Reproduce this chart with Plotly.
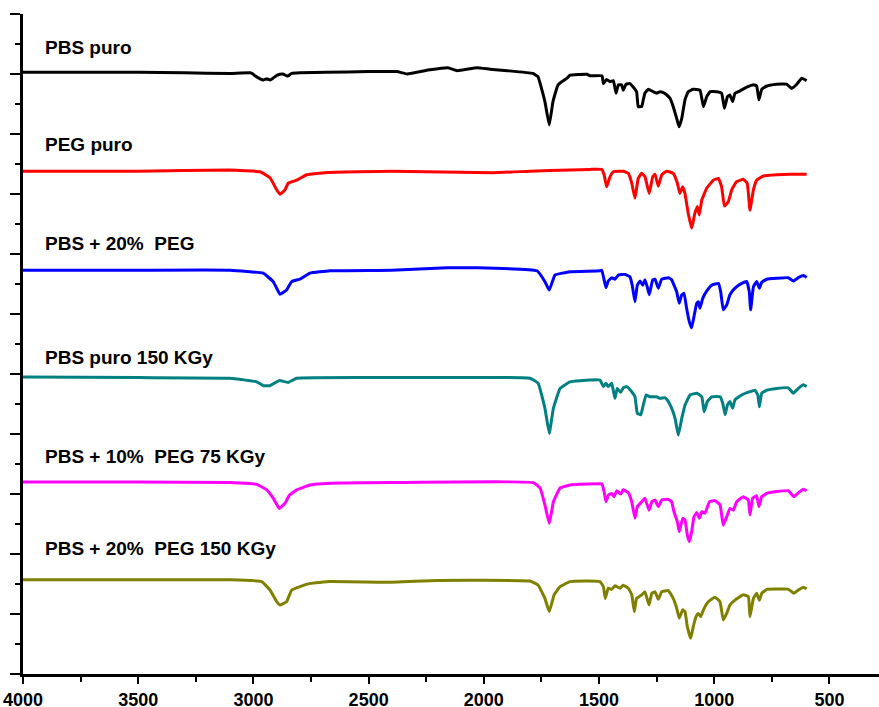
import plotly.graph_objects as go

# ---- data (wavenumber cm-1, transmittance a.u. with stacking offset) ----
wn_pbs = [4000, 3500, 3300, 3102, 3015, 3002, 2993, 2971, 2957, 2942, 2928, 2915, 2899, 2885, 2872, 2856, 2849,
          2834, 2798, 2682, 2500, 2377, 2333, 2234, 2156, 2116, 2030, 1973, 1899, 1787, 1765, 1735, 1716, 1700,
          1678, 1639, 1626, 1552, 1539, 1487, 1481, 1467, 1452, 1438, 1426, 1416, 1402, 1395, 1383, 1366, 1351,
          1337, 1330, 1315, 1308, 1301, 1286, 1265, 1250, 1235, 1221, 1206, 1192, 1178, 1163, 1153, 1141, 1127,
          1113, 1091, 1062, 1047, 1033, 1018, 989, 968, 956, 943, 932, 920, 910, 888, 859, 830, 816, 806, 794,
          772, 729, 686, 664, 642, 620, 599]
t_pbs = [100.3, 100.3, 100.2, 100.1, 100.2, 100.0, 99.7, 99.2, 99.0, 99.2, 99.0, 99.3, 99.75, 99.95, 100.0, 99.7, 99.7,
         100.1, 100.2, 100.3, 100.4, 100.4, 100.0, 100.7, 101.05, 100.55, 101.05, 100.8, 100.55, 100.1, 99.55, 95.4, 91.5, 95.4,
         98.2, 99.3, 99.8, 99.95, 99.7, 99.7, 98.4, 99.1, 98.7, 98.9, 96.8, 98.2, 98.2, 97.3, 98.3, 98.4, 97.8,
         97.05, 94.55, 94.55, 95.7, 96.8, 97.45, 97.05, 96.8, 97.05, 96.9, 96.5, 95.95, 94.55, 92.6, 91.2, 92.6, 95.7,
         97.05, 97.45, 97.3, 94.55, 96.2, 97.05, 97.05, 96.8, 94.3, 96.2, 96.5, 95.4, 96.8, 97.2, 97.8, 98.2, 98.0, 95.7, 97.45,
         98.0, 98.3, 98.3, 97.6, 98.3, 99.3, 98.9]

wn_peg = [4000, 3500, 3102, 2971, 2928, 2899, 2885, 2863, 2849, 2812, 2769, 2682, 2400, 1960, 1800, 1626, 1539,
          1488, 1478, 1467, 1452, 1438, 1395, 1373, 1358, 1344, 1330, 1315, 1301, 1282, 1267, 1257, 1243, 1228,
          1206, 1178, 1160, 1149, 1137, 1127, 1113, 1098, 1084, 1073, 1065, 1054, 1033, 1004, 982, 968, 956, 939,
          924, 903, 874, 857, 845, 830, 816, 787, 729, 671, 599]
t_peg = [83.8, 83.8, 84.0, 83.7, 82.7, 80.7, 79.95, 80.7, 81.8, 82.3, 83.2, 83.6, 83.8, 83.55, 83.8, 84.0, 84.1,
         84.1, 83.2, 81.2, 82.9, 83.7, 83.8, 83.45, 81.8, 79.3, 82.6, 83.45, 82.9, 80.1, 82.9, 83.3, 81.3, 83.2,
         83.8, 83.45, 81.8, 80.1, 81.2, 80.05, 76.8, 74.3, 76.8, 77.9, 76.5, 79.0, 80.95, 82.3, 82.6, 81.2, 78.0, 78.7,
         80.7, 82.05, 82.45, 81.8, 77.3, 80.7, 82.3, 83.0, 83.2, 83.3, 83.3]

wn_pbs20 = [4000, 3500, 3102, 2958, 2914, 2885, 2856, 2834, 2798, 2754, 2668, 2400, 2160, 2030, 1769, 1735, 1716,
            1691, 1626, 1496, 1488, 1478, 1470, 1460, 1445, 1431, 1416, 1387, 1366, 1356, 1344, 1334, 1322, 1310,
            1301, 1291, 1282, 1267, 1257, 1243, 1228, 1199, 1185, 1163, 1152, 1141, 1131, 1120, 1108, 1098, 1088,
            1076, 1069, 1062, 1050, 1033, 1011, 982, 972, 961, 946, 932, 910, 881, 859, 848, 842, 830, 816, 804,
            794, 772, 729, 679, 657, 635, 613, 599]
t_pbs20 = [67.3, 67.3, 67.3, 66.8, 65.4, 63.3, 64.0, 65.4, 65.8, 66.8, 67.2, 67.3, 67.7, 67.7, 67.2, 65.4, 64.0,
           66.5, 67.05, 67.2, 67.3, 65.7, 64.4, 65.5, 66.05, 65.8, 66.5, 66.6, 66.2, 64.8, 62.05, 64.8, 65.5, 64.8,
           65.7, 64.55, 63.2, 65.7, 65.8, 64.3, 65.8, 66.05, 65.7, 63.7, 61.8, 63.2, 63.45, 60.95, 58.7, 57.7, 59.55,
           61.8, 62.05, 60.95, 62.6, 63.8, 64.8, 65.1, 63.7, 60.7, 61.5, 63.2, 64.3, 65.1, 65.4, 63.7, 60.7, 64.55, 65.4, 64.3,
           65.3, 65.8, 65.95, 66.05, 65.5, 66.05, 66.4, 66.1]

wn_pbs150 = [4000, 3500, 3102, 2986, 2957, 2928, 2899, 2885, 2849, 2812, 2277, 1800, 1764, 1735, 1716, 1698, 1669,
             1626, 1539, 1496, 1481, 1470, 1460, 1445, 1431, 1421, 1406, 1395, 1380, 1358, 1344, 1334, 1319, 1308,
             1296, 1279, 1250, 1235, 1214, 1199, 1185, 1170, 1156, 1141, 1127, 1105, 1076, 1054, 1044, 1030, 1011,
             975, 963, 953, 943, 932, 920, 910, 881, 845, 823, 811, 804, 794, 772, 729, 679, 657, 635, 613, 599]
t_pbs150 = [49.5, 49.4, 49.3, 48.7, 48.05, 48.05, 48.7, 48.9, 48.6, 49.3, 49.4, 49.3, 48.45, 44.3, 40.1, 44.3, 47.6,
            48.7, 49.0, 49.0, 47.9, 48.45, 47.9, 48.45, 45.95, 47.6, 46.95, 47.7, 47.9, 47.05, 46.2, 43.45, 43.2, 44.8,
            46.5, 46.2, 46.2, 45.95, 46.05, 45.4, 44.3, 42.6, 39.8, 42.6, 44.8, 46.5, 46.8, 46.2, 43.7, 45.4, 46.2,
            46.2, 45.1, 43.2, 44.8, 45.4, 44.3, 45.7, 46.5, 47.05, 47.3, 46.5, 44.55, 46.8, 47.3, 47.6, 47.7, 46.8, 47.6, 48.2, 47.9]

wn_pbs10_75 = [4000, 3500, 3102, 2986, 2942, 2914, 2888, 2863, 2844, 2812, 2754, 2668, 2400, 1785, 1756, 1735, 1716,
               1698, 1669, 1626, 1496, 1488, 1478, 1470, 1460, 1445, 1435, 1423, 1406, 1395, 1373, 1358, 1344, 1334,
               1315, 1301, 1283, 1271, 1257, 1243, 1228, 1199, 1185, 1175, 1160, 1152, 1137, 1127, 1117, 1108, 1098,
               1088, 1076, 1065, 1054, 1040, 1021, 997, 975, 961, 946, 932, 917, 903, 874, 852, 845, 833, 816, 806,
               794, 772, 729, 679, 654, 635, 613, 599]
t_pbs10_75 = [32.0, 32.0, 31.9, 31.6, 30.7, 29.3, 27.6, 28.45, 29.8, 30.7, 31.5, 31.8, 31.9, 31.9, 31.0, 28.2, 25.1,
              28.7, 31.0, 31.5, 31.7, 31.7, 30.4, 28.7, 29.8, 30.1, 29.55, 30.55, 30.0, 30.7, 30.2, 28.7, 25.95, 27.9,
              28.7, 29.3, 27.3, 28.7, 29.0, 27.9, 29.0, 29.1, 28.7, 27.05, 25.4, 23.7, 25.95, 25.7, 23.2, 22.05, 23.7,
              26.2, 26.9, 25.95, 27.05, 26.8, 28.7, 28.9, 28.2, 24.8, 26.2, 27.6, 27.3, 28.7, 29.55, 29.0, 26.5, 29.3, 29.7, 27.9,
              29.55, 30.1, 30.4, 30.55, 29.55, 30.2, 30.8, 30.55]

wn_pbs20_150 = [4000, 3500, 3102, 2964, 2928, 2899, 2885, 2856, 2834, 2798, 2754, 2668, 2400, 2200, 1800, 1764, 1735,
                1716, 1695, 1669, 1626, 1496, 1481, 1473, 1460, 1445, 1431, 1409, 1395, 1373, 1358, 1347, 1337, 1315,
                1301, 1283, 1271, 1257, 1243, 1228, 1199, 1178, 1163, 1152, 1137, 1127, 1117, 1102, 1091, 1079, 1069,
                1059, 1047, 1026, 997, 975, 961, 946, 932, 910, 874, 852, 845, 830, 816, 804, 794, 772, 729, 679, 654,
                635, 613, 599]
t_pbs20_150 = [15.7, 15.7, 15.7, 15.4, 14.0, 12.05, 11.5, 12.05, 14.0, 14.55, 15.1, 15.4, 15.3, 15.6, 15.5, 14.8, 12.6,
               10.4, 13.2, 14.55, 15.4, 15.4, 14.55, 12.6, 14.3, 14.1, 14.7, 14.3, 14.8, 14.3, 13.2, 10.4, 12.6, 13.2,
               13.7, 11.5, 13.45, 13.7, 12.45, 13.7, 13.9, 12.6, 10.95, 9.3, 10.7, 10.4, 7.9, 5.95, 7.9, 9.55, 10.1,
               9.55, 10.7, 12.05, 12.8, 12.05, 9.0, 10.1, 11.5, 12.3, 13.2, 12.9, 9.55, 12.6, 13.45, 12.3, 13.45, 14.1, 14.15, 14.15, 13.45,
               14.0, 14.45, 14.2]

names = ["PBS puro", "PEG puro", "PBS + 20%\u00a0 PEG", "PBS puro 150 KGy",
         "PBS + 10%\u00a0 PEG 75 KGy", "PBS + 20%\u00a0 PEG 150 KGy"]
x_series = [wn_pbs, wn_peg, wn_pbs20, wn_pbs150, wn_pbs10_75, wn_pbs20_150]
y_series = [t_pbs, t_peg, t_pbs20, t_pbs150, t_pbs10_75, t_pbs20_150]
colors = ["#000000", "#FF0000", "#0000FF", "#008080", "#FF00FF", "#808000"]
label_y = [104.5, 88.2, 71.8, 52.8, 36.2, 21.0]
x_ticks = [4000, 3500, 3000, 2500, 2000, 1500, 1000, 500]

fig = go.Figure()
for xs, ys, c, n in zip(x_series, y_series, colors, names):
    fig.add_trace(go.Scatter(x=xs, y=ys, mode="lines", name=n,
                             line=dict(color=c, width=3, shape="spline", smoothing=0.3),
                             showlegend=False))

for n, ly in zip(names, label_y):
    fig.add_annotation(x=3912, y=ly, text=n, showarrow=False, xanchor="left", yanchor="middle",
                       font=dict(family="Liberation Sans, Arial, sans-serif", size=19, color="black",
                                 weight="bold"))

fig.update_layout(
    width=879, height=707,
    margin=dict(l=23, r=0, t=14, b=33, pad=0, autoexpand=False),
    plot_bgcolor="white", paper_bgcolor="white",
    font=dict(family="Liberation Sans, Arial, sans-serif", color="black"),
)
fig.update_xaxes(
    range=[4000, 285], tickmode="array", tickvals=x_ticks, ticktext=[str(v) for v in x_ticks],
    showline=True, linecolor="black", linewidth=2.5, mirror=False, automargin=False,
    ticks="outside", ticklen=7, tickwidth=2, tickcolor="black", ticklabelstandoff=1,
    minor=dict(dtick=250, tick0=0, ticks="outside", ticklen=5, tickwidth=2, tickcolor="black", showgrid=False),
    showgrid=False, zeroline=False,
    tickfont=dict(family="Liberation Sans, Arial, sans-serif", size=18, color="black", weight="bold"),
)
fig.update_yaxes(
    range=[0, 110], dtick=10, tick0=0, showticklabels=False, automargin=False,
    showline=True, linecolor="black", linewidth=2.5,
    ticks="outside", ticklen=10, tickwidth=2, tickcolor="black",
    minor=dict(dtick=5, tick0=0, ticks="outside", ticklen=5, tickwidth=2, tickcolor="black", showgrid=False),
    showgrid=False, zeroline=False,
)

fig.write_html("out.html")
